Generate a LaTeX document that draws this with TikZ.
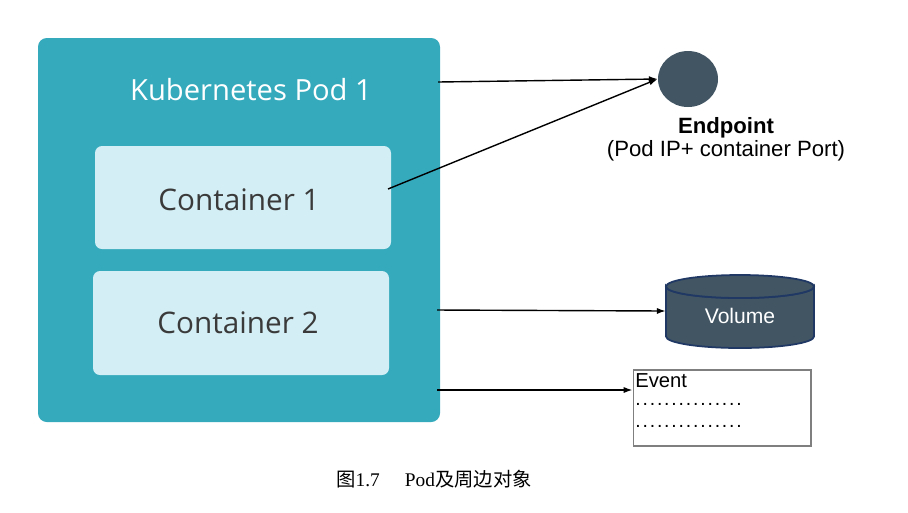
\documentclass[tikz,border=0pt]{standalone}
\usepackage{fontspec}
\setmainfont{Liberation Sans}
\newfontfamily\podfont{Open Sans}
\newfontfamily\cjkfont{Noto Sans CJK SC}
\newfontfamily\capserif{Liberation Serif}
\usetikzlibrary{shapes.geometric,arrows.meta}
\definecolor{podteal}{HTML}{35AABD}
\definecolor{contfill}{HTML}{D3EEF4}
\definecolor{conttext}{HTML}{3A3A3A}
\definecolor{slate}{HTML}{415563}
\definecolor{navy}{HTML}{1F3864}
\definecolor{evgray}{HTML}{7F7F7F}
\newcommand\mydotrow{\foreach\i in {1,...,15}{.\hspace{1.05pt}}}
\begin{document}
\begin{tikzpicture}[x=0.02cm,y=-0.02cm,
  podbox/.style={fill=podteal,rounded corners=5pt,draw=none},
  contbox/.style={fill=contfill,rounded corners=4pt,draw=none},
  conttxt/.style={font=\podfont\fontsize{16.9}{20}\selectfont,text=conttext},
  link/.style={-{Latex[length=5pt,width=3.5pt]},line width=0.8pt,black},
  lbl/.style={font=\fontsize{11}{13}\selectfont,inner sep=0pt},
  cyl/.style={draw=navy,line width=1pt,fill=slate}]
\useasboundingbox (0,0) rectangle (908,512);
% pod
\path[podbox] (38,38) rectangle (440,422);
\node[font=\podfont\fontsize{16.6}{20}\selectfont,text=white] (title) at (251,90) {Kubernetes Pod 1};
\path[contbox] (95,146) rectangle (391,249);
\node[conttxt] (c1) at (239,200) {Container 1};
\path[contbox] (93,271) rectangle (389,375);
\node[conttxt] (c2) at (238,323) {Container 2};
% anchors on pod
\coordinate (p1) at (438,82);
\coordinate (p2) at (388,189);
\coordinate (p3) at (437,310);
\coordinate (p4) at (437,390);
% endpoint
\node[ellipse,fill=slate,inner sep=0pt,minimum width=1.2cm,minimum height=1.12cm] (ep) at (688,79) {};
\node[lbl,font=\bfseries\fontsize{12.6}{14}\selectfont] (eplbl) at (726,128) {Endpoint};
\node[lbl,font=\fontsize{12.6}{14}\selectfont] (epsub) at (726,151) {(Pod IP+ container Port)};
% volume
\node[minimum width=2.96cm,minimum height=1.48cm,inner sep=0pt] (vol) at (740,311) {};
\path[cyl]
  (666,286.5) arc[start angle=180,end angle=360,x radius=74,y radius=-11.5]
  -- (814,336.5) arc[start angle=0,end angle=-180,x radius=74,y radius=-11.5] -- cycle;
\path[cyl] (740,286.5) ellipse [x radius=74,y radius=11.5];
\node[lbl,text=white,font=\fontsize{12}{14}\selectfont] (vollbl) at (740,316) {Volume};
% event
\node[draw=evgray,line width=0.6pt,minimum width=3.56cm,minimum height=1.52cm,inner sep=0pt] (ev) at (722,408) {};
\node[lbl,anchor=west,font=\fontsize{11.5}{13}\selectfont] (evt) at (635,381) {Event};
\node[lbl,anchor=west] (d1) at (635,404) {\mydotrow};
\node[lbl,anchor=west] (d2) at (635,426) {\mydotrow};
% arrows
\draw[link] (p1) -- (ep.west);
\draw[link] (p2) -- (ep.west);
\draw[link] (p3) -- (vol.west);
\draw[link] (p4) -- (ev.west |- p4);
% caption
\node[inner sep=0pt] (cap) at (434,479) {\fontsize{11}{13}\selectfont\cjkfont 图\capserif 1.7\hspace{1.3em}Pod\cjkfont 及周边对象};
\end{tikzpicture}
\end{document}
